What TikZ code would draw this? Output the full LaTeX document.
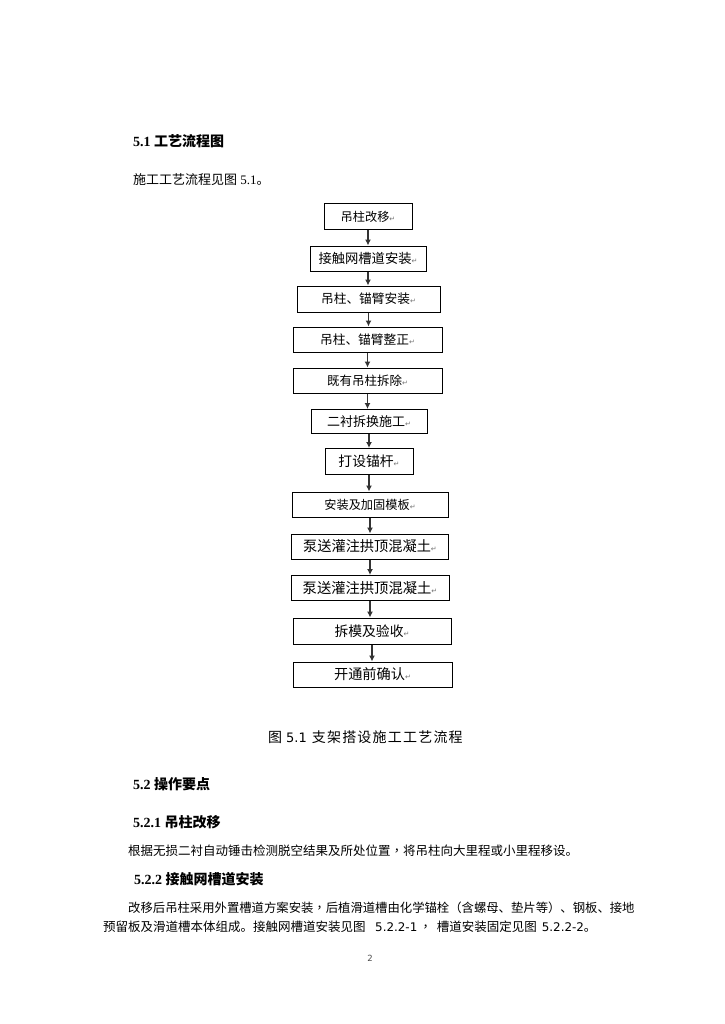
\documentclass[tikz,border=0pt]{standalone}
\usepackage{fontspec}
\setmainfont{Liberation Serif}
\newfontfamily\cjk{Noto Sans CJK SC}
\newfontfamily\cjktc{Noto Sans CJK TC}
\newfontfamily\djv{DejaVu Sans}
\newfontfamily\cjkwide[LetterSpace=8.6]{Noto Sans CJK SC}
\usetikzlibrary{arrows.meta}
\tikzset{
  stepbox/.style={draw=black, line width=1pt, inner sep=0pt, font=\cjk\fontsize{#1}{#1}\selectfont},
  stepbox/.default=12.5,
  flowarrow/.style={draw=black!80, line width=1.4pt, -{Latex[length=6pt,width=6pt]}},
  txt/.style={anchor=west, inner sep=0pt},
  head/.style={txt, font=\fontsize{14}{16}\selectfont},
  body/.style={txt, font=\cjk\fontsize{12.5}{14}\selectfont},
}
\newcommand{\parmark}{{\djv\fontsize{7}{8}\selectfont\color{black!55}↵}}
\newcommand{\lat}[1]{{\djv\fontsize{11.9}{14}\selectfont #1}}
\newcommand{\tcc}{{\cjktc ，}}
\begin{document}
\begin{tikzpicture}[x=1pt,y=-1pt]
\useasboundingbox (0,0) rectangle (724,1024);
\fill[white] (0,0) rectangle (724,1024);

% headings and text
\node[head] (h51) at (133,141) {\textbf{5.1} {\cjk\bfseries 工艺流程图}};
\node[txt, font=\fontsize{13}{15}\selectfont] (p1) at (133,180) {{\cjk 施工工艺流程见图} 5.1{\cjk 。}};

% flow boxes
\node[stepbox=12.2, minimum width=88pt, minimum height=26pt] (b1) at (368,217) {吊柱改移\parmark};
\node[stepbox=13.3, minimum width=116pt, minimum height=25pt] (b2) at (368,258.5) {接触网槽道安装\parmark};
\node[stepbox=12.7, minimum width=143pt, minimum height=26pt] (b3) at (368.5,299) {吊柱、锚臂安装\parmark};
\node[stepbox=12.7, minimum width=149pt, minimum height=25pt] (b4) at (367.5,339.5) {吊柱、锚臂整正\parmark};
\node[stepbox=12.5, minimum width=149pt, minimum height=25pt] (b5) at (367.5,380.5) {既有吊柱拆除\parmark};
\node[stepbox=13, minimum width=116pt, minimum height=24pt] (b6) at (369,421.5) {二衬拆换施工\parmark};
\node[stepbox=13.8, minimum width=88pt, minimum height=26pt] (b7) at (369,461.5) {打设锚杆\parmark};
\node[stepbox=12.2, minimum width=156pt, minimum height=25pt] (b8) at (370,504.5) {安装及加固模板\parmark};
\node[stepbox=14.2, minimum width=157pt, minimum height=25pt] (b9) at (370,546.5) {泵送灌注拱顶混凝土\parmark};
\node[stepbox=14.3, minimum width=158pt, minimum height=25pt] (b10) at (370,588) {泵送灌注拱顶混凝土\parmark};
\node[stepbox=13.8, minimum width=158pt, minimum height=26pt] (b11) at (372,631) {拆模及验收\parmark};
\node[stepbox=14.2, minimum width=159pt, minimum height=25pt] (b12) at (372.5,674.5) {开通前确认\parmark};

\draw[flowarrow] (b1.south) -- (b1.south |- b2.north);
\draw[flowarrow] (b2.south) -- (b2.south |- b3.north);
\draw[flowarrow] (b3.south) -- (b3.south |- b4.north);
\draw[flowarrow] (b4.south) -- (b4.south |- b5.north);
\draw[flowarrow] (b5.south) -- (b5.south |- b6.north);
\draw[flowarrow] (b6.south) -- (b6.south |- b7.north);
\draw[flowarrow] (b7.south) -- (b7.south |- b8.north);
\draw[flowarrow] (b8.south) -- (b8.south |- b9.north);
\draw[flowarrow] (b9.south) -- (b9.south |- b10.north);
\draw[flowarrow] (b10.south) -- (b10.south |- b11.north);
\draw[flowarrow] (b11.south) -- (b11.south |- b12.north);

% caption
\node[txt, font=\cjk\fontsize{14}{16}\selectfont] (cap) at (268,737) {图\hspace{4pt}{\djv\fontsize{13}{16}\selectfont 5.1}\hspace{5pt}{\cjkwide\fontsize{14}{16}\selectfont 支架搭设施工工艺流程}};

\node[head] (h52) at (133,784) {\textbf{5.2} {\cjk\bfseries 操作要点}};
\node[head] (h521) at (133,822) {\textbf{5.2.1} {\cjk\bfseries 吊柱改移}};
\node[body] (t1) at (128,851) {根据无损二衬自动锤击检测脱空结果及所处位置\tcc 将吊柱向大里程或小里程移设。};
\node[head] (h522) at (134,879) {\textbf{5.2.2} {\cjk\bfseries 接触网槽道安装}};
\node[body, font=\cjk\fontsize{12.35}{14}\selectfont] (t2) at (128,908) {改移后吊柱采用外置槽道方案安装\tcc 后植滑道槽由化学锚栓（含螺母、垫片等）、钢板、接地};
\node[body] (t3) at (103,927) {预留板及滑道槽本体组成。接触网槽道安装见图\hspace{9.5pt}\lat{5.2.2-1}\hspace{2pt}\tcc\hspace{5pt}槽道安装固定见图\hspace{5pt}\lat{5.2.2-2}。};

\node[inner sep=0pt, font=\djv\fontsize{8.5}{10}\selectfont, text=black!70] (pg) at (370,958) {2};
\end{tikzpicture}
\end{document}
